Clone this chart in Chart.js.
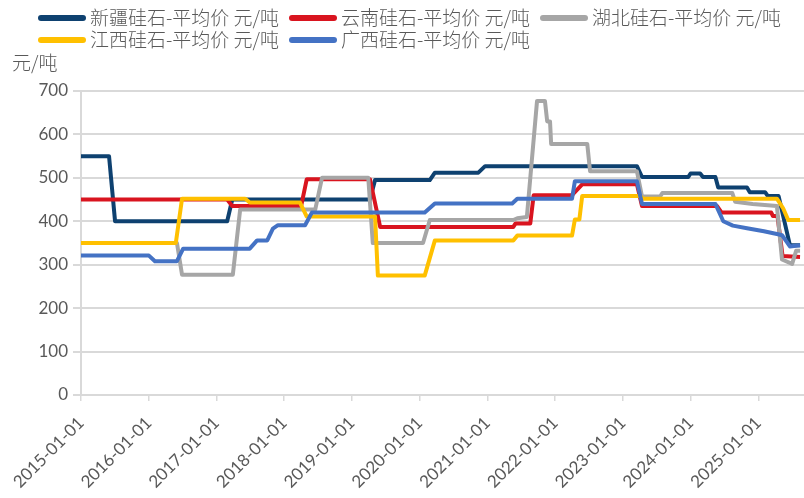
<!DOCTYPE html>
<html>
<head>
<meta charset="utf-8">
<title>硅石平均价</title>
<script src="https://cdn.jsdelivr.net/npm/chart.js@4.4.1/dist/chart.umd.min.js"></script>
<style>
  body { margin: 0; background: #fff; }
</style>
</head>
<body>
<canvas id="priceChart" width="804" height="498"></canvas>
<script>
// x axis tick labels (yearly)
var tickLabels = ['2015-01-01', '2016-01-01', '2017-01-01', '2018-01-01', '2019-01-01', '2020-01-01',
    '2021-01-01', '2022-01-01', '2023-01-01', '2024-01-01', '2025-01-01'];
var lastDate = '2025-09-04';

// 新疆
var xinjiangDates = ['2015-01-01', '2015-05-30', '2015-07-02', '2017-02-28', '2017-03-25', '2019-04-07',
    '2019-05-04', '2020-02-25', '2020-03-22', '2020-11-13', '2020-12-19', '2023-03-16', '2023-04-13',
    '2023-12-19', '2024-01-01', '2024-02-22', '2024-03-07', '2024-05-13', '2024-05-28', '2024-11-01',
    '2024-11-16', '2025-02-07', '2025-02-22', '2025-04-19', '2025-06-19', '2025-08-13'];
var xinjiangPrices = [550, 550, 400, 400, 450, 450, 495, 495, 512, 512, 527, 527, 502, 502, 510, 510,
    502, 502, 478, 478, 467, 467, 458, 458, 345, 345];

// 云南
var yunnanDates = ['2015-01-01', '2017-02-28', '2017-03-25', '2018-04-01', '2018-05-01', '2019-04-07',
    '2019-06-01', '2021-05-19', '2021-06-01', '2021-08-19', '2021-09-07', '2022-04-01', '2022-05-25',
    '2023-03-16', '2023-04-13', '2024-05-22', '2024-06-16', '2025-03-10', '2025-03-19', '2025-04-13',
    '2025-05-10', '2025-08-13'];
var yunnanPrices = [450, 450, 435, 435, 497, 497, 387, 387, 395, 395, 460, 460, 485, 485, 435, 435,
    420, 420, 412, 412, 320, 318];

// 湖北
var hubeiDates = ['2015-01-01', '2016-06-01', '2016-06-28', '2017-03-28', '2017-05-07', '2018-06-16',
    '2018-07-22', '2019-03-28', '2019-04-22', '2020-01-19', '2020-02-25', '2021-05-19', '2021-06-10',
    '2021-08-01', '2021-09-25', '2021-11-07', '2021-11-19', '2021-12-04', '2021-12-10', '2022-06-22',
    '2022-07-07', '2023-03-16', '2023-04-13', '2023-07-19', '2023-08-01', '2024-08-13', '2024-08-28',
    '2024-12-01', '2025-04-10', '2025-05-07', '2025-07-01', '2025-07-22', '2025-08-13'];
var hubeiPrices = [350, 350, 277, 277, 427, 427, 500, 500, 350, 350, 403, 403, 407, 410, 677, 677,
    630, 630, 578, 578, 515, 515, 457, 457, 465, 465, 445, 440, 435, 312, 302, 332, 332];

// 江西
var jiangxiDates = ['2015-01-01', '2016-05-25', '2016-06-28', '2017-06-04', '2017-06-28', '2018-03-25',
    '2018-05-01', '2019-05-04', '2019-05-19', '2020-01-28', '2020-03-22', '2021-05-19', '2021-06-10',
    '2022-04-01', '2022-04-16', '2022-05-10', '2022-05-25', '2023-04-04', '2023-04-19', '2025-04-10',
    '2025-05-13', '2025-06-10', '2025-08-13'];
var jiangxiPrices = [350, 350, 452, 452, 443, 443, 411, 411, 275, 275, 356, 356, 367, 367, 404, 404,
    458, 458, 452, 452, 430, 403, 403];

// 广西
var guangxiDates = ['2015-01-01', '2016-01-02', '2016-02-04', '2016-06-01', '2016-07-04', '2017-06-28',
    '2017-08-07', '2017-10-01', '2017-11-01', '2017-11-28', '2018-04-22', '2018-05-28', '2020-01-28',
    '2020-03-22', '2021-05-13', '2021-06-10', '2022-04-01', '2022-04-16', '2023-03-16', '2023-04-13',
    '2024-05-13', '2024-06-25', '2024-08-16', '2024-11-01', '2025-02-01', '2025-04-16', '2025-05-07',
    '2025-06-19', '2025-08-13'];
var guangxiPrices = [321, 321, 308, 308, 337, 337, 356, 356, 383, 391, 391, 420, 420, 441, 441, 452,
    452, 492, 492, 440, 440, 400, 390, 384, 377, 370, 368, 342, 345];

// months since 2015-01-01
function monthIndex(d) {
    var p = d.split('-');
    return (p[0] - 2015) * 12 + (p[1] - 1) + (p[2] - 1) / 30;
}

function toPoints(dates, values) {
    return dates.map(function (d, i) {
        return { x: monthIndex(d), y: values[i] };
    });
}

function series(label, dates, values, color, order) {
    return {
        label: label,
        data: toPoints(dates, values),
        borderColor: color,
        backgroundColor: color,
        borderWidth: 4,
        borderJoinStyle: 'round',
        pointRadius: 0,
        tension: 0,
        order: order
    };
}

var textColor = '#595959';
var gridColor = '#d9d9d9';

// legend in two rows + unit label, drawn on the canvas
var topLegend = {
    id: 'topLegend',
    afterDraw: function (chart) {
        var ctx = chart.ctx;
        ctx.save();
        ctx.font = '300 19px "Noto Sans CJK SC"';
        ctx.textBaseline = 'middle';
        ctx.fillStyle = textColor;
        chart.data.datasets.forEach(function (ds, i) {
            var x = 38 + (i % 3) * 251;
            var y = 18 + Math.floor(i / 3) * 22;
            ctx.strokeStyle = ds.borderColor;
            ctx.lineWidth = 6;
            ctx.lineCap = 'round';
            ctx.beginPath();
            ctx.moveTo(x + 3, y);
            ctx.lineTo(x + 45, y);
            ctx.stroke();
            ctx.fillText(ds.label, x + 52, y);
        });
        ctx.fillText('元/吨', 12, 63);
        ctx.restore();
    }
};

var ctx = document.getElementById('priceChart');
var chart = new Chart(ctx, {
    type: 'line',
    data: {
        datasets: [
            series('新疆硅石-平均价 元/吨', xinjiangDates, xinjiangPrices, '#0e4170', 4),
            series('云南硅石-平均价 元/吨', yunnanDates, yunnanPrices, '#d9141f', 3),
            series('湖北硅石-平均价 元/吨', hubeiDates, hubeiPrices, '#a6a6a6', 2),
            series('江西硅石-平均价 元/吨', jiangxiDates, jiangxiPrices, '#ffc000', 1),
            series('广西硅石-平均价 元/吨', guangxiDates, guangxiPrices, '#4472c4', 0)
        ]
    },
    options: {
        responsive: false,
        animation: false,
        layout: { padding: { top: 91, left: 0, right: 0, bottom: 0 } },
        plugins: {
            legend: { display: false },
            tooltip: { enabled: false }
        },
        scales: {
            x: {
                type: 'linear',
                min: 0,
                max: monthIndex(lastDate),
                afterBuildTicks: function (scale) {
                    scale.ticks = tickLabels.map(function (t) {
                        return { value: monthIndex(t) };
                    });
                },
                afterFit: function (scale) {
                    scale.height = 103;
                    scale.paddingLeft = 0;
                    scale.paddingRight = 0;
                },
                grid: { drawOnChartArea: false, tickLength: 6, color: gridColor, lineWidth: 1.5 },
                border: { color: gridColor, width: 2 },
                ticks: {
                    autoSkip: false,
                    minRotation: 45,
                    maxRotation: 45,
                    padding: 12,
                    color: textColor,
                    font: { family: 'Lato', size: 17 },
                    callback: function (value, index) {
                        return tickLabels[index];
                    }
                }
            },
            y: {
                min: 0,
                max: 700,
                afterFit: function (scale) {
                    scale.width = 81;
                },
                grid: { color: gridColor, lineWidth: 2, tickLength: 8 },
                border: { color: gridColor, width: 2 },
                ticks: {
                    stepSize: 100,
                    padding: 5,
                    color: textColor,
                    font: { family: 'Lato', size: 17 }
                }
            }
        }
    },
    plugins: [topLegend]
});
</script>
</body>
</html>
